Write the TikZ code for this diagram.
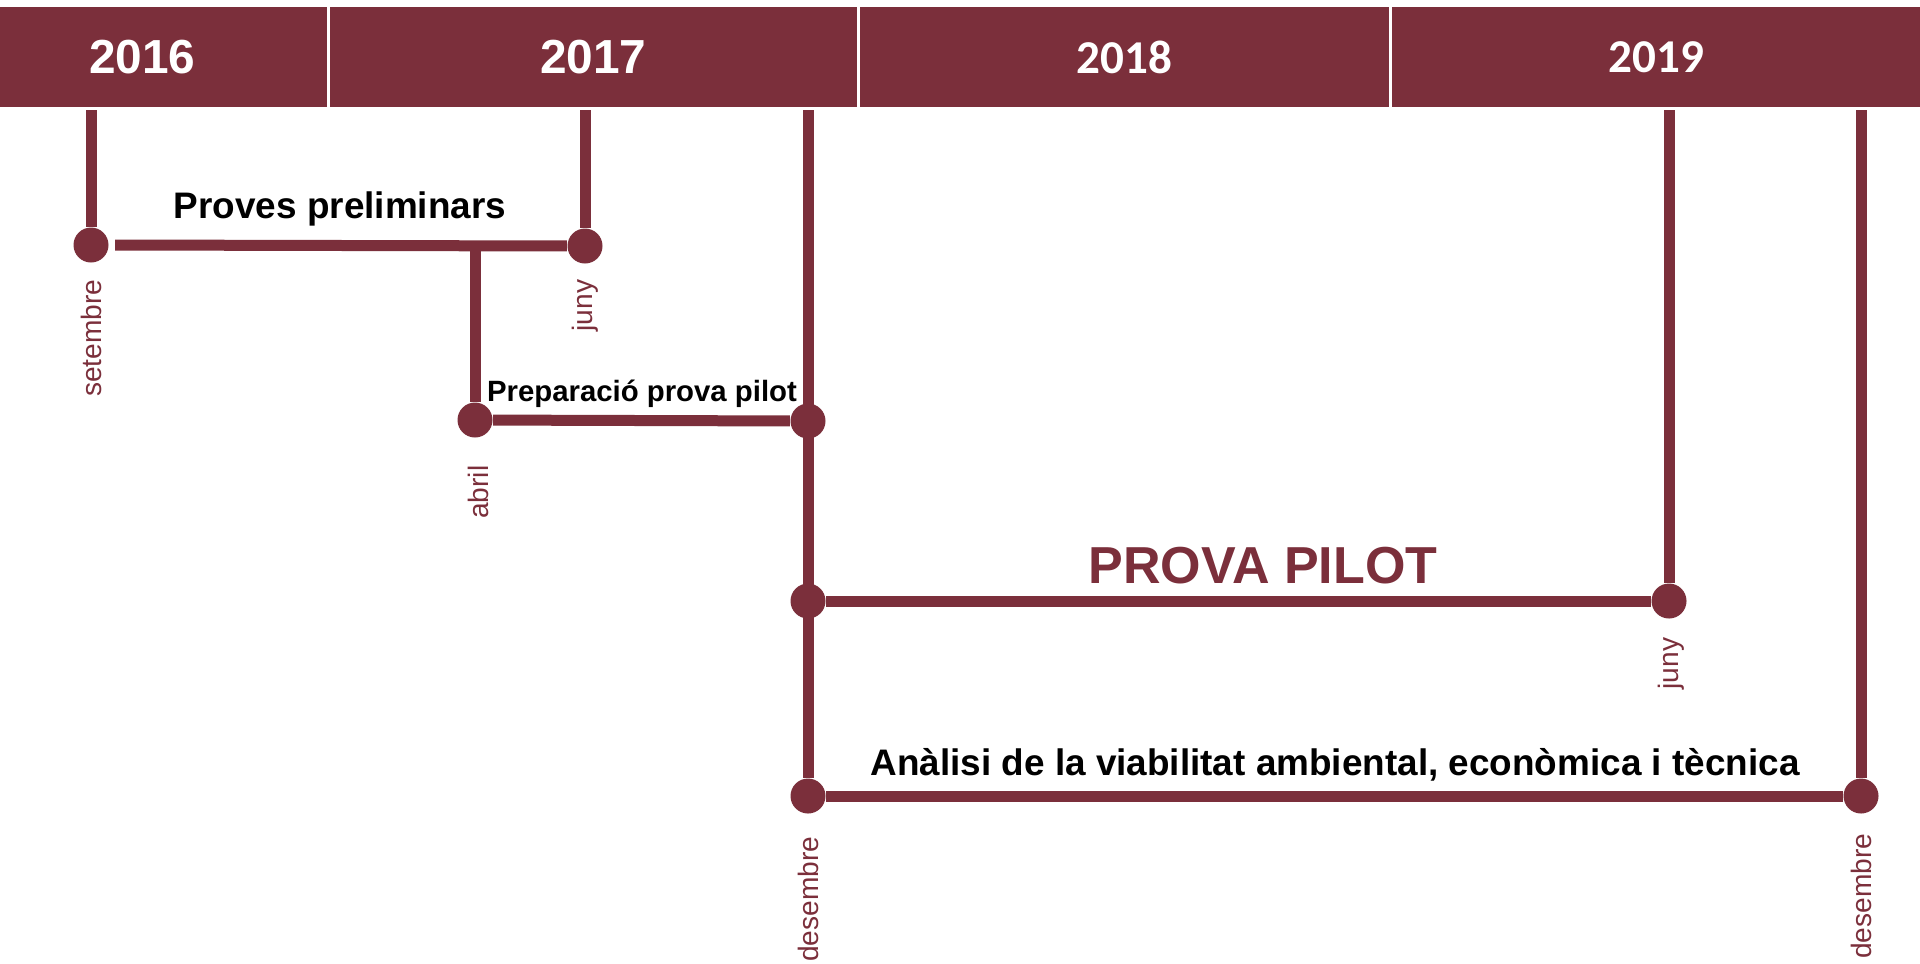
\documentclass[tikz,border=0pt]{standalone}
\usepackage{fontspec}
\setmainfont{Liberation Sans}
\newfontfamily\carlito{Carlito}
\usepackage{tikz}

\definecolor{granat}{RGB}{123,47,59}

\tikzset{
  any/.style={fill=granat, draw=white, line width=0.8pt, anchor=north west,
    minimum height=1.03cm, inner sep=0pt, text=white},
  fita/.style={circle, fill=granat, inner sep=0pt, minimum size=0.35cm},
  linia/.style={draw=granat, line width=0.11cm},
  tasca/.style={anchor=base, text=black, font=\bfseries\fontsize{10.5}{12}\selectfont},
  mes/.style={rotate=90, anchor=east, text=granat, inner sep=0pt, font=\fontsize{8}{9}\selectfont}
}

\begin{document}
\begin{tikzpicture}
\useasboundingbox (0,0) rectangle (19.2,-9.63);

% anys
\node[any, minimum width=3.72cm, font=\bfseries\fontsize{13.6}{15}\selectfont] (a2016) at (-0.45,-0.04) {\raisebox{-0.03cm}{2016}};
\node[any, minimum width=5.30cm, font=\bfseries\fontsize{13.6}{15}\selectfont] (a2017) at (3.27,-0.04) {\raisebox{-0.03cm}{2017}};
\node[any, minimum width=5.32cm, font=\carlito\bfseries\fontsize{13.4}{15}\selectfont] (a2018) at (8.57,-0.04) {\raisebox{-0.03cm}{2018}};
\node[any, minimum width=5.32cm, font=\carlito\bfseries\fontsize{13.4}{15}\selectfont] (a2019) at (13.89,-0.04) {\raisebox{-0.03cm}{2019}};

% fites
\node[fita] (setembre) at (0.91,-2.45) {};
\node[fita] (juny17) at (5.85,-2.46) {};
\node[fita] (abril) at (4.75,-4.20) {};
\node[fita] (des17a) at (8.08,-4.21) {};
\node[fita] (des17b) at (8.08,-6.01) {};
\node[fita] (juny19) at (16.69,-6.01) {};
\node[fita] (des17c) at (8.08,-7.96) {};
\node[fita] (des19) at (18.61,-7.96) {};
\coordinate (branca) at (4.75,-2.45);

% linies verticals
\draw[linia] (setembre) -- (setembre |- a2016.south);
\draw[linia] (juny17) -- (juny17 |- a2017.south);
\draw[linia] (des17c) -- (des17c |- a2017.south);
\draw[linia] (juny19) -- (juny19 |- a2019.south);
\draw[linia] (des19) -- (des19 |- a2019.south);
\draw[linia] (branca) -- (abril);

% linies horitzontals
\draw[linia] ([xshift=0.06cm]setembre.east) -- (juny17);
\draw[linia] (abril) -- (des17a);
\draw[linia] (des17b) -- (juny19);
\draw[linia] (des17c) -- (des19);

% tasques
\node[tasca] (tProves) at (3.40,-2.18) {Proves preliminars};
\node[tasca, font=\bfseries\fontsize{8.35}{10}\selectfont] (tPrep) at (6.42,-4.01) {Preparació prova pilot};
\node[tasca, text=granat, font=\bfseries\fontsize{14.8}{17}\selectfont] (tPilot) at (12.63,-5.83) {PROVA PILOT};
\node[tasca] (tAnalisi) at (13.35,-7.75) {Anàlisi de la viabilitat ambiental, econòmica i tècnica};

% mesos
\node[mes] (mSetembre) at (0.91,-2.79) {setembre};
\node[mes] (mJuny17) at (5.85,-2.79) {juny};
\node[mes] (mAbril) at (4.78,-4.65) {abril};
\node[mes] (mDes17) at (8.08,-8.36) {desembre};
\node[mes] (mJuny19) at (16.71,-6.37) {juny};
\node[mes] (mDes19) at (18.61,-8.33) {desembre};
\end{tikzpicture}
\end{document}
